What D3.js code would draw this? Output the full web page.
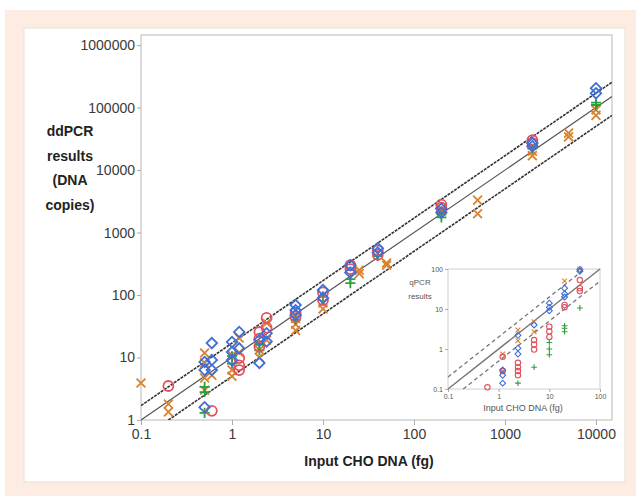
<!DOCTYPE html>
<html>
<head>
<meta charset="utf-8">
<script src="https://cdn.jsdelivr.net/npm/d3@7"></script>
<style>
  body { margin: 0; background: #fff; }
  text { font-family: "Liberation Sans", Arial, sans-serif; }
</style>
</head>
<body>
<svg id="chart"></svg>
<script>
const width = 642;
const height = 499;

// main chart ticks
const xTicks = [0.1, 1, 10, 100, 1000, 10000];
const yTicks = [1, 10, 100, 1000, 10000, 100000, 1000000];
// reference lines: copies = factor * fg
const refFactors = [17, 10, 5];

// ddPCR results [input fg, copies]
const blueDiamonds = [
  [0.5, 8.5], [0.5, 6.3], [0.5, 1.6], [0.6, 17], [0.6, 9.1], [0.6, 6.3],
  [1, 17.7], [1, 12.2], [1, 9], [1.2, 25.7], [1.2, 14], [2, 19], [2, 8.2],
  [2.4, 24.5], [2.4, 18], [5, 69], [5, 57], [5, 48], [10, 120], [10, 90],
  [20, 300], [20, 230], [40, 560], [40, 480], [200, 2400], [200, 2100],
  [2000, 27000], [2000, 24000], [10000, 204000], [10000, 170000]
];
const redCircles = [
  [0.2, 3.5], [0.6, 1.4], [1.2, 9.8], [1.2, 7.5], [1.2, 6.3], [2, 25.6],
  [2, 20], [2, 15], [2.4, 43], [2.4, 30], [5, 52], [5, 45], [10, 110],
  [10, 83], [20, 300], [20, 260], [40, 520], [40, 440], [200, 2800],
  [200, 2500], [2000, 30000], [2000, 27000]
];
const greenPlus = [
  [0.5, 3.4], [0.5, 2.8], [0.5, 1.3], [1, 10.5], [1, 8], [2, 16], [2, 13],
  [5, 40], [10, 95], [20, 155], [20, 180], [40, 420], [200, 1750],
  [200, 2000], [2000, 22000], [10000, 120000], [10000, 110000]
];
const orangeX = [
  [0.1, 3.9], [0.2, 1.8], [0.2, 1.35], [0.5, 11.8], [0.5, 8.2], [0.5, 4.7],
  [0.5, 3], [0.6, 5.2], [1, 11], [1, 6.3], [1, 5], [1.2, 20.5], [1.2, 12],
  [2, 13.2], [2, 10], [2.4, 35.7], [2.4, 19], [5, 42], [5, 34], [5, 27],
  [10, 75], [10, 60], [25, 250], [25, 220], [50, 325], [50, 300],
  [200, 2400], [200, 2200], [500, 3300], [500, 2000], [2000, 20000],
  [2000, 17000], [5000, 39000], [5000, 34000], [10000, 92000], [10000, 75000]
];

// inset (qPCR results)
const qTicks = [0.1, 1, 10, 100];
const qRefFactors = [2, 1, 0.5];
const qBlue = [
  [1.2, 0.3], [1.2, 0.22], [1.2, 0.14], [2.4, 2.2], [2.4, 1.05], [2.4, 0.75],
  [5, 4], [10, 14], [10, 9], [10, 11], [20, 33], [20, 24], [20, 20], [40, 97], [40, 88]
];
const qRed = [
  [0.6, 0.11], [1.2, 0.64], [1.2, 0.28], [2.4, 0.45], [2.4, 0.35], [2.4, 0.28],
  [2.4, 0.22], [5, 1.67], [5, 1.3], [5, 0.97], [10, 3.6], [10, 2.75], [10, 2],
  [20, 12.6], [20, 11], [40, 53], [40, 33], [40, 28]
];
const qGreen = [
  [2.4, 0.14], [5, 0.35], [10, 1.45], [10, 1], [10, 0.72], [20, 3.8], [20, 3.3],
  [20, 2.7], [40, 10.6]
];
const qOrange = [
  [1.2, 0.75], [1.2, 0.28], [2.4, 3], [2.4, 1.6], [5, 4.8], [5, 2.7], [20, 50], [40, 100]
];

const colors = { blue: "#3f6fd8", red: "#e2515e", green: "#2f9e3e", orange: "#d9822e" };

const svg = d3.select("#chart")
  .attr("width", width)
  .attr("height", height);

// backgrounds
svg.append("rect").attr("x", 5).attr("y", 10).attr("width", 631).attr("height", 486)
  .attr("fill", "#fdece2");
svg.append("rect").attr("x", 24).attr("y", 28).attr("width", 601).attr("height", 454)
  .attr("fill", "#fff").attr("stroke", "#eadfd8");

const x = d3.scaleLog().domain([0.1, 15000]).range([141, 612]);
const y = d3.scaleLog().domain([1, 1.45e6]).range([420, 35]);

// frame
svg.append("rect")
  .attr("x", x.range()[0]).attr("y", y.range()[1])
  .attr("width", x.range()[1] - x.range()[0])
  .attr("height", y.range()[0] - y.range()[1])
  .attr("fill", "none").attr("stroke", "#c4c4c4").attr("stroke-width", 1.2);

const xAxis = svg.append("g")
  .attr("transform", `translate(0,${y.range()[0]})`)
  .call(d3.axisBottom(x).tickValues(xTicks).tickFormat(d => d).tickSize(5).tickPadding(4));
const yAxis = svg.append("g")
  .attr("transform", `translate(${x.range()[0]},0)`)
  .call(d3.axisLeft(y).tickValues(yTicks).tickFormat(d3.format("d")).tickSize(4).tickPadding(2));
[xAxis, yAxis].forEach(a => {
  a.select(".domain").remove();
  a.selectAll(".tick line").attr("stroke", "#aaa");
  a.selectAll(".tick text").attr("fill", "#3a3a3a")
    .style("font-size", "14px");
});

// reference lines
svg.append("clipPath").attr("id", "plotClip").append("rect")
  .attr("x", x.range()[0]).attr("y", y.range()[1])
  .attr("width", x.range()[1] - x.range()[0])
  .attr("height", y.range()[0] - y.range()[1]);

const lineG = svg.append("g").attr("clip-path", "url(#plotClip)");
refFactors.forEach((k, i) => {
  const x0 = Math.max(x.domain()[0], 1 / k);
  const x1 = x.domain()[1];
  lineG.append("line")
    .attr("x1", x(x0)).attr("y1", y(x0 * k))
    .attr("x2", x(x1)).attr("y2", y(x1 * k))
    .attr("stroke", i === 1 ? "#555" : "#333")
    .attr("stroke-width", i === 1 ? 1.2 : 1.6)
    .attr("stroke-dasharray", i === 1 ? null : "3,1");
});

function drawPoints(g, data, kind, color, xs, ys, s) {
  const sw = s > 3 ? 1.8 : 1.1;
  const sel = g.selectAll(null).data(data).enter();
  if (kind === "circle") {
    sel.append("circle")
      .attr("cx", d => xs(d[0])).attr("cy", d => ys(d[1]))
      .attr("r", s)
      .attr("fill", "none").attr("stroke", color).attr("stroke-width", sw);
  } else {
    const type = kind === "diamond" ? d3.symbolSquare : kind === "plus" ? d3.symbolPlus : d3.symbolTimes;
    const size = kind === "diamond" ? s * s * 2.2 : kind === "plus" ? s * s * 1.4 : s * s * 2.1;
    sel.append("path")
      .attr("d", d3.symbol(type, size))
      .attr("transform", d => `translate(${xs(d[0])},${ys(d[1])})` + (kind === "diamond" ? " rotate(45)" : ""))
      .attr("fill", "none").attr("stroke", color).attr("stroke-width", sw);
  }
}

const pts = svg.append("g");
drawPoints(pts, orangeX, "times", colors.orange, x, y, 5);
drawPoints(pts, greenPlus, "plus", colors.green, x, y, 5);
drawPoints(pts, redCircles, "circle", colors.red, x, y, 5);
drawPoints(pts, blueDiamonds, "diamond", colors.blue, x, y, 5);

// axis titles
svg.append("text")
  .attr("x", 369).attr("y", 466)
  .attr("text-anchor", "middle")
  .attr("font-weight", "bold").style("font-size", "14px").attr("fill", "#222")
  .text("Input CHO DNA (fg)");

const yTitle = ["ddPCR", "results", "(DNA", "copies)"];
svg.append("g").selectAll("text").data(yTitle).enter().append("text")
  .attr("x", 70).attr("y", (d, i) => 136 + i * 24.5)
  .attr("text-anchor", "middle")
  .attr("font-weight", "bold").style("font-size", "14px").attr("fill", "#222")
  .text(d => d);

// inset
const qx = d3.scaleLog().domain([0.1, 100]).range([448, 600]);
const qy = d3.scaleLog().domain([0.1, 100]).range([389, 269]);
const inset = svg.append("g");

inset.append("rect")
  .attr("x", qx.range()[0]).attr("y", qy.range()[1])
  .attr("width", qx.range()[1] - qx.range()[0])
  .attr("height", qy.range()[0] - qy.range()[1])
  .attr("fill", "#fff").attr("stroke", "#cfcfcf").attr("stroke-width", 1);

const qxAxis = inset.append("g")
  .attr("transform", `translate(0,${qy.range()[0]})`)
  .call(d3.axisBottom(qx).tickValues(qTicks).tickFormat(d => d).tickSize(3).tickPadding(2));
const qyAxis = inset.append("g")
  .attr("transform", `translate(${qx.range()[0]},0)`)
  .call(d3.axisLeft(qy).tickValues(qTicks).tickFormat(d => d).tickSize(3).tickPadding(2));
[qxAxis, qyAxis].forEach(a => {
  a.select(".domain").remove();
  a.selectAll(".tick line").attr("stroke", "#aaa");
  a.selectAll(".tick text").attr("fill", "#555").style("font-size", "7px");
});

qRefFactors.forEach(k => {
  const x0 = Math.max(0.1, 0.1 / k);
  const x1 = Math.min(100, 100 / k);
  inset.append("line")
    .attr("x1", qx(x0)).attr("y1", qy(x0 * k))
    .attr("x2", qx(x1)).attr("y2", qy(x1 * k))
    .attr("stroke", "#777")
    .attr("stroke-width", k === 1 ? 1.5 : 1.3)
    .attr("stroke-dasharray", k === 1 ? null : "4,3");
});

drawPoints(inset, qOrange, "times", colors.orange, qx, qy, 2.8);
drawPoints(inset, qGreen, "plus", colors.green, qx, qy, 3);
drawPoints(inset, qRed, "circle", colors.red, qx, qy, 2.7);
drawPoints(inset, qBlue, "diamond", colors.blue, qx, qy, 2.8);

inset.append("text").attr("x", 420).attr("y", 285)
  .attr("text-anchor", "middle").style("font-size", "8px").attr("fill", "#555")
  .text("qPCR");
inset.append("text").attr("x", 420).attr("y", 299)
  .attr("text-anchor", "middle").style("font-size", "8px").attr("fill", "#555")
  .text("results");
inset.append("text").attr("x", 523).attr("y", 411)
  .attr("text-anchor", "middle").style("font-size", "9px").attr("fill", "#555")
  .text("Input CHO DNA (fg)");
</script>
</body>
</html>
